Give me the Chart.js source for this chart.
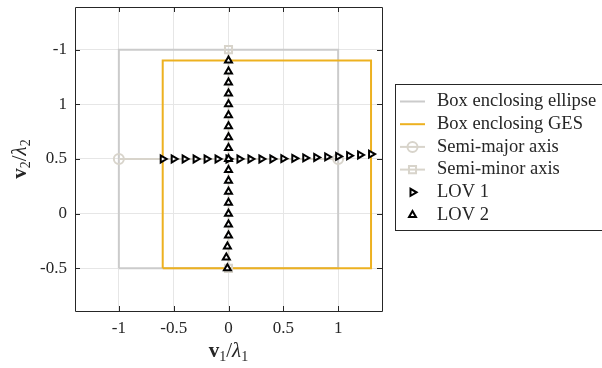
<!DOCTYPE html>
<html>
<head>
<meta charset="utf-8">
<script src="https://cdn.jsdelivr.net/npm/chart.js@4"></script>
<style>
  html, body { margin: 0; padding: 0; background: #fff; }
  canvas { display: block; }
</style>
</head>
<body>
<canvas id="lovChart" width="602" height="368"></canvas>
<script>
// corners of the two boxes, walked round and closed
let ellipseBoxX = [-1, 1, 1, -1, -1];
let ellipseBoxY = [-0.5, -0.5, 1.5, 1.5, -0.5];
let gesBoxX = [-0.6, 1.3, 1.3, -0.6, -0.6];
let gesBoxY = [-0.5, -0.5, 1.4, 1.4, -0.5];

// ellipse axes (end points)
let semiMajorX = [-1, 1];
let semiMajorY = [0.5, 0.5];
let semiMinorX = [0, 0];
let semiMinorY = [-0.5, 1.5];

// lines of variation
let lov1X = [-0.6, -0.5, -0.4, -0.3, -0.2, -0.1, 0, 0.1, 0.2, 0.3, 0.4, 0.5, 0.6, 0.7, 0.8, 0.9, 1.0, 1.1, 1.2, 1.3];
let lov1Y = [0.5, 0.5, 0.5, 0.5, 0.5, 0.5, 0.5, 0.5, 0.5, 0.5, 0.5, 0.503, 0.506, 0.51, 0.514, 0.519, 0.524, 0.53, 0.537, 0.545];
let lov2X = [-0.01, -0.02, -0.01, 0, 0, 0, 0, 0, 0, 0, 0, 0, 0, 0, 0, 0, 0, 0, 0, 0];
let lov2Y = [-0.5, -0.4, -0.3, -0.2, -0.1, 0, 0.1, 0.2, 0.3, 0.4, 0.5, 0.6, 0.7, 0.8, 0.9, 1.0, 1.1, 1.2, 1.3, 1.4];

let xTicks = [-1, -0.5, 0, 0.5, 1];
let xTickLabels = ['-1', '-0.5', '0', '0.5', '1'];
let yTicks = [-0.5, 0, 0.5, 1, 1.5];
let yTickLabels = ['-0.5', '0', '0.5', '1', '-1'];

let seriesNames = ['Box enclosing ellipse', 'Box enclosing GES', 'Semi-major axis', 'Semi-minor axis', 'LOV 1', 'LOV 2'];

const SERIF = '"Liberation Serif", "DejaVu Serif", serif';
const INK = '#262626';

function pts(xs, ys) {
  return xs.map((x, i) => ({ x: x, y: ys[i] }));
}

const datasets = [
  {
    label: seriesNames[0], data: pts(ellipseBoxX, ellipseBoxY),
    showLine: true, borderColor: '#cbcbcb', borderWidth: 2, pointRadius: 0, order: 6
  },
  {
    label: seriesNames[1], data: pts(gesBoxX, gesBoxY),
    showLine: true, borderColor: '#edb120', borderWidth: 2, pointRadius: 0, order: 5
  },
  {
    label: seriesNames[2], data: pts(semiMajorX, semiMajorY),
    showLine: true, borderColor: '#d8d4cb', borderWidth: 2,
    pointStyle: 'circle', pointRadius: 5, pointBorderWidth: 2,
    pointBorderColor: '#d8d4cb', pointBackgroundColor: 'rgba(0,0,0,0)', order: 4
  },
  {
    label: seriesNames[3], data: pts(semiMinorX, semiMinorY),
    showLine: true, borderColor: '#d8d4cb', borderWidth: 2,
    pointStyle: 'rect', pointRadius: 5, pointBorderWidth: 2,
    pointBorderColor: '#d8d4cb', pointBackgroundColor: 'rgba(0,0,0,0)', order: 3
  },
  {
    label: seriesNames[4], data: pts(lov1X, lov1Y),
    showLine: false, pointStyle: 'triangle', rotation: 90, pointRadius: 4,
    pointBorderWidth: 2, pointBorderColor: '#000', pointBackgroundColor: '#fff', order: 2
  },
  {
    label: seriesNames[5], data: pts(lov2X, lov2Y),
    showLine: false, pointStyle: 'triangle', rotation: 0, pointRadius: 4,
    pointBorderWidth: 2, pointBorderColor: '#000', pointBackgroundColor: '#fff', order: 1
  }
];

// frame round the plot with short inward ticks on all four sides
const framePlugin = {
  id: 'frame',
  afterDatasetsDraw(chart) {
    const ctx = chart.ctx;
    const a = chart.chartArea;
    const xs = chart.scales.x, ys = chart.scales.y;
    const t = 5;
    ctx.save();
    ctx.strokeStyle = INK;
    ctx.lineWidth = 1;
    ctx.beginPath();
    ctx.rect(a.left + 0.5, a.top + 0.5, a.right - a.left, a.bottom - a.top);
    xTicks.forEach(v => {
      const px = Math.round(xs.getPixelForValue(v)) + 0.5;
      ctx.moveTo(px, a.bottom); ctx.lineTo(px, a.bottom - t);
      ctx.moveTo(px, a.top); ctx.lineTo(px, a.top + t);
    });
    yTicks.forEach(v => {
      const py = Math.round(ys.getPixelForValue(v)) + 0.5;
      ctx.moveTo(a.left, py); ctx.lineTo(a.left + t, py);
      ctx.moveTo(a.right, py); ctx.lineTo(a.right - t, py);
    });
    ctx.stroke();
    ctx.restore();
  }
};

// axis titles: bold v, subscript, slash, lambda
function drawMathTitle(ctx, sub) {
  const parts = [
    { t: 'v', f: 'bold 21px ' + SERIF, dy: 0 },
    { t: sub, f: '14px ' + SERIF, dy: 4 },
    { t: '/', f: '21px ' + SERIF, dy: 0 },
    { t: 'λ', f: 'italic 21px ' + SERIF, dy: 0 },
    { t: sub, f: '14px ' + SERIF, dy: 4 }
  ];
  let w = 0;
  parts.forEach(p => { ctx.font = p.f; p.w = ctx.measureText(p.t).width; w += p.w; });
  let x = -w / 2;
  ctx.fillStyle = INK;
  ctx.textBaseline = 'alphabetic';
  ctx.textAlign = 'left';
  parts.forEach(p => {
    ctx.font = p.f;
    ctx.fillText(p.t, x, p.dy);
    x += p.w;
  });
}

const titlesPlugin = {
  id: 'titles',
  afterDraw(chart) {
    const ctx = chart.ctx;
    const a = chart.chartArea;
    ctx.save();
    ctx.translate((a.left + a.right) / 2, 357);
    drawMathTitle(ctx, '1');
    ctx.restore();
    ctx.save();
    ctx.translate(26, (a.top + a.bottom) / 2);
    ctx.rotate(-Math.PI / 2);
    drawMathTitle(ctx, '2');
    ctx.restore();
  }
};

// legend box to the right of the plot
const legendPlugin = {
  id: 'sideLegend',
  afterDraw(chart) {
    const ctx = chart.ctx;
    const left = 395, top = 84, bottom = 230;
    const rowTop = 101.5, rowGap = 22.7;
    ctx.save();
    ctx.fillStyle = '#fff';
    ctx.fillRect(left, top, 620 - left, bottom - top);
    ctx.strokeStyle = INK;
    ctx.lineWidth = 1;
    ctx.strokeRect(left + 0.5, top + 0.5, 620 - left, bottom - top);
    chart.data.datasets.forEach((ds, i) => {
      const y = rowTop + i * rowGap;
      if (ds.showLine) {
        ctx.strokeStyle = ds.borderColor;
        ctx.lineWidth = ds.borderWidth;
        ctx.beginPath();
        ctx.moveTo(400, y);
        ctx.lineTo(425, y);
        ctx.stroke();
      }
      if (ds.pointRadius > 0) {
        ctx.strokeStyle = ds.pointBorderColor;
        ctx.fillStyle = ds.pointBackgroundColor;
        Chart.helpers.drawPoint(ctx, {
          pointStyle: ds.pointStyle,
          rotation: ds.rotation || 0,
          radius: ds.pointRadius,
          borderWidth: ds.pointBorderWidth
        }, 412.5, y);
      }
      ctx.fillStyle = INK;
      ctx.font = '18.5px ' + SERIF;
      ctx.textAlign = 'left';
      ctx.textBaseline = 'middle';
      ctx.fillText(ds.label, 437, y);
    });
    ctx.restore();
  }
};

// keep tick labels from pushing the plot area around
function noOverflow(s) {
  s.paddingTop = 0;
  s.paddingBottom = 0;
  s.paddingLeft = 0;
  s.paddingRight = 0;
}

new Chart(document.getElementById('lovChart'), {
  type: 'scatter',
  data: { datasets: datasets },
  options: {
    responsive: false,
    animation: false,
    devicePixelRatio: 1,
    layout: { padding: { left: 0, top: 5, right: 220, bottom: 0 } },
    plugins: {
      legend: { display: false },
      tooltip: { enabled: false }
    },
    scales: {
      x: {
        type: 'linear',
        min: -1.4,
        max: 1.4,
        afterBuildTicks: s => { s.ticks = xTicks.map(v => ({ value: v })); },
        afterFit: s => { s.height = 57; noOverflow(s); },
        ticks: {
          padding: 7,
          color: INK,
          font: { family: SERIF, size: 17 },
          callback: v => xTickLabels[xTicks.indexOf(v)]
        },
        grid: { color: '#e6e6e6', lineWidth: 1, drawTicks: false },
        border: { display: false }
      },
      y: {
        type: 'linear',
        min: -0.89,
        max: 1.89,
        afterBuildTicks: s => { s.ticks = yTicks.map(v => ({ value: v })); },
        afterFit: s => { s.width = 75; noOverflow(s); },
        ticks: {
          padding: 8,
          color: INK,
          font: { family: SERIF, size: 17 },
          callback: v => yTickLabels[yTicks.indexOf(v)]
        },
        grid: { color: '#e6e6e6', lineWidth: 1, drawTicks: false },
        border: { display: false }
      }
    }
  },
  plugins: [framePlugin, titlesPlugin, legendPlugin]
});
</script>
</body>
</html>
